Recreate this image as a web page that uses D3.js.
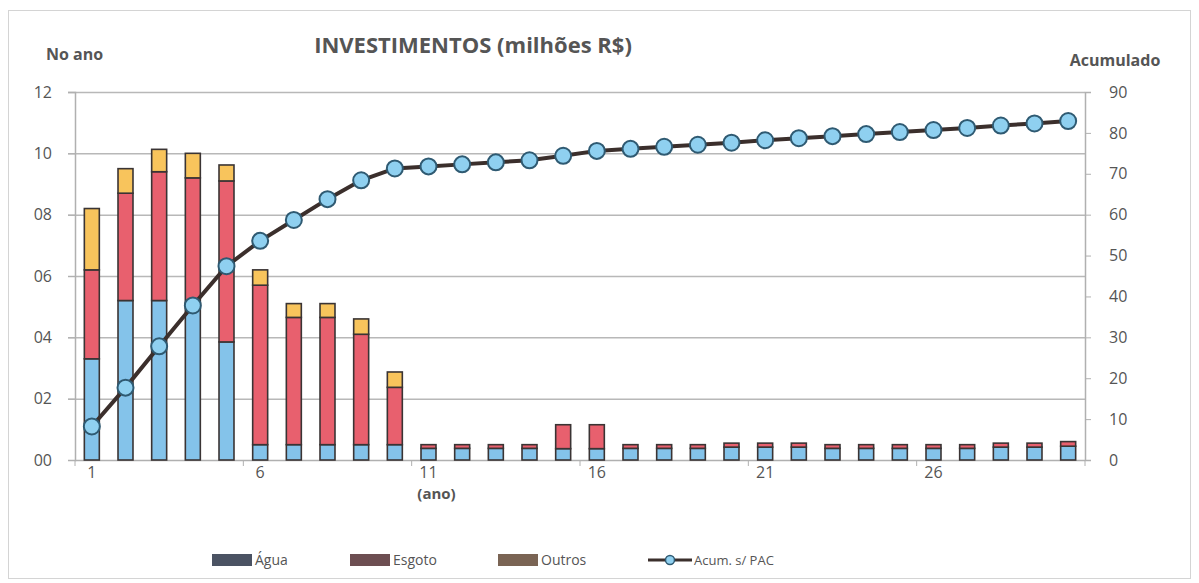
<!DOCTYPE html>
<html>
<head>
<meta charset="utf-8">
<script src="https://cdn.jsdelivr.net/npm/d3@7"></script>
<style>
  html, body { margin: 0; padding: 0; background: #fff; }
  svg text { font-family: "Open Sans", "Liberation Sans", sans-serif; fill: #555; }
</style>
</head>
<body>
<svg id="chart" width="1199" height="583"></svg>
<script>
// Years of the plan
const anos = d3.range(1, 31);

// Annual investment per component (millions R$)
const agua = [3.3, 5.2, 5.2, 5.1, 3.85, 0.5, 0.5, 0.5, 0.5, 0.5,
              0.38, 0.38, 0.38, 0.38, 0.37, 0.37, 0.38, 0.38, 0.38, 0.42,
              0.42, 0.42, 0.38, 0.38, 0.38, 0.38, 0.38, 0.42, 0.42, 0.45];
const esgoto = [2.9, 3.5, 4.2, 4.1, 5.25, 5.2, 4.15, 4.15, 3.6, 1.87,
                0.12, 0.12, 0.12, 0.12, 0.78, 0.78, 0.12, 0.12, 0.12, 0.13,
                0.13, 0.13, 0.12, 0.12, 0.12, 0.12, 0.12, 0.13, 0.13, 0.15];
const outros = [2.0, 0.8, 0.73, 0.8, 0.52, 0.5, 0.45, 0.45, 0.5, 0.5,
                0, 0, 0, 0, 0, 0, 0, 0, 0, 0,
                0, 0, 0, 0, 0, 0, 0, 0, 0, 0];

// Accumulated investment without PAC (millions R$)
const acumulado = [8.2, 17.7, 27.8, 37.8, 47.4, 53.6, 58.7, 63.8, 68.4, 71.3,
                   71.8, 72.3, 72.8, 73.3, 74.4, 75.6, 76.1, 76.6, 77.1, 77.6,
                   78.2, 78.7, 79.2, 79.7, 80.2, 80.7, 81.2, 81.8, 82.3, 82.9];

const leftTicks = [0, 2, 4, 6, 8, 10, 12];
const leftTickLabels = ["00", "02", "04", "06", "08", "10", "12"];
const rightTicks = [0, 10, 20, 30, 40, 50, 60, 70, 80, 90];
const xTickYears = [1, 6, 11, 16, 21, 26];

const series = [
  { key: "agua", nome: "Água", values: agua, color: "#84c3ea", legend: "#4b5363" },
  { key: "esgoto", nome: "Esgoto", values: esgoto, color: "#e8606e", legend: "#6d4e52" },
  { key: "outros", nome: "Outros", values: outros, color: "#f8c45c", legend: "#7a6454" }
];

const svg = d3.select("#chart");
const plot = { left: 75, right: 1085, top: 92, bottom: 460 };

// Outer frame
svg.append("rect")
  .attr("x", 8.5).attr("y", 10.5).attr("width", 1182).attr("height", 568)
  .attr("fill", "none").attr("stroke", "#d4d4d4").attr("stroke-width", 1);

const x = d3.scaleBand().domain(anos).range([plot.left, plot.right]).paddingInner(0.555).paddingOuter(0.2775);
const yL = d3.scaleLinear().domain([0, 12]).range([plot.bottom, plot.top]);
const yR = d3.scaleLinear().domain([0, 90]).range([plot.bottom, plot.top]);

// Horizontal gridlines
svg.append("g").selectAll("line").data(leftTicks.filter(d => d > 0)).join("line")
  .attr("x1", plot.left - 7).attr("x2", plot.right)
  .attr("y1", d => yL(d) + 0.5).attr("y2", d => yL(d) + 0.5)
  .attr("stroke", "#b8b8b8").attr("stroke-width", 1.5);

// Left axis
const gL = svg.append("g").attr("transform", `translate(${plot.left},0)`)
  .call(d3.axisLeft(yL).tickValues(leftTicks).tickFormat((d, i) => leftTickLabels[i]).tickSize(7).tickPadding(16));
gL.select(".domain").attr("stroke", "#b0b0b0").attr("stroke-width", 1.5);
gL.selectAll(".tick line").attr("stroke", "#b0b0b0");
gL.selectAll(".tick text").style("font-size", "16px").attr("fill", "#555");

// Right axis
const gR = svg.append("g").attr("transform", `translate(${plot.right},0)`)
  .call(d3.axisRight(yR).tickValues(rightTicks).tickFormat(d3.format("d")).tickSize(6).tickPadding(18));
gR.select(".domain").attr("stroke", "#b0b0b0").attr("stroke-width", 1.5);
gR.selectAll(".tick line").attr("stroke", "#b0b0b0");
gR.selectAll(".tick text").style("font-size", "16px").attr("fill", "#555");

// Bottom axis: labels every 5 years, marks every 5 category boundaries
svg.append("line")
  .attr("x1", plot.left).attr("x2", plot.right)
  .attr("y1", plot.bottom + 0.5).attr("y2", plot.bottom + 0.5)
  .attr("stroke", "#b0b0b0").attr("stroke-width", 1.5);
const step = x.step();
svg.append("g").selectAll("line").data(d3.range(0, 31, 5)).join("line")
  .attr("x1", d => plot.left + d * step).attr("x2", d => plot.left + d * step)
  .attr("y1", plot.bottom).attr("y2", plot.bottom + 6)
  .attr("stroke", "#b0b0b0");
svg.append("g").selectAll("text").data(xTickYears).join("text")
  .attr("x", d => x(d) + x.bandwidth() / 2)
  .attr("y", plot.bottom + 18)
  .attr("text-anchor", "middle")
  .style("font-size", "16px")
  .text(d => d);
svg.append("text")
  .attr("x", x(11) + x.bandwidth() / 2 + 8).attr("y", plot.bottom + 39)
  .attr("text-anchor", "middle").style("font-size", "15px").style("font-weight", "bold")
  .text("(ano)");

// Stacked bars
const rows = anos.map((a, i) => ({ ano: a, agua: agua[i], esgoto: esgoto[i], outros: outros[i] }));
const stack = d3.stack().keys(series.map(s => s.key))(rows);
const gBars = svg.append("g");
stack.forEach((layer, li) => {
  gBars.append("g").selectAll("rect").data(layer.filter(d => d[1] - d[0] > 0)).join("rect")
    .attr("x", d => x(d.data.ano))
    .attr("y", d => yL(d[1]))
    .attr("width", x.bandwidth())
    .attr("height", d => yL(d[0]) - yL(d[1]))
    .attr("fill", series[li].color)
    .attr("stroke", "#3a3434").attr("stroke-width", 1.6);
});

// Accumulated line on the right scale
const line = d3.line().x((d, i) => x(anos[i]) + x.bandwidth() / 2).y(d => yR(d));
svg.append("path").datum(acumulado)
  .attr("d", line).attr("fill", "none")
  .attr("stroke", "#3b2f2c").attr("stroke-width", 4);
svg.append("g").selectAll("circle").data(acumulado).join("circle")
  .attr("cx", (d, i) => x(anos[i]) + x.bandwidth() / 2)
  .attr("cy", d => yR(d))
  .attr("r", 8)
  .attr("fill", "#8fd0f0").attr("stroke", "#2f5a72").attr("stroke-width", 2);

// Titles
svg.append("text").attr("x", 473).attr("y", 53).attr("text-anchor", "middle")
  .style("font-size", "22px").style("font-weight", "bold").attr("fill", "#4d4d4d")
  .text("INVESTIMENTOS (milhões R$)");
svg.append("text").attr("x", 46).attr("y", 60)
  .style("font-size", "16px").style("font-weight", "bold").attr("fill", "#4d4d4d")
  .text("No ano");
svg.append("text").attr("x", 1115).attr("y", 66).attr("text-anchor", "middle")
  .style("font-size", "16px").style("font-weight", "bold").attr("fill", "#4d4d4d")
  .text("Acumulado");

// Legend
const legY = 560;
const legItems = [
  { x: 212, s: series[0] },
  { x: 350, s: series[1] },
  { x: 498, s: series[2] }
];
const gLeg = svg.append("g");
legItems.forEach(it => {
  gLeg.append("rect").attr("x", it.x).attr("y", legY - 6).attr("width", 40).attr("height", 12)
    .attr("fill", it.s.legend);
  gLeg.append("text").attr("x", it.x + 43).attr("y", legY + 5)
    .style("font-size", "14px").text(it.s.nome);
});
gLeg.append("line").attr("x1", 648).attr("x2", 692).attr("y1", legY).attr("y2", legY)
  .attr("stroke", "#3b2f2c").attr("stroke-width", 3);
gLeg.append("circle").attr("cx", 670).attr("cy", legY).attr("r", 4.5)
  .attr("fill", "#8fd0f0").attr("stroke", "#2f5a72").attr("stroke-width", 1.5);
gLeg.append("text").attr("x", 694).attr("y", legY + 5)
  .style("font-size", "13px").text("Acum. s/ PAC");
</script>
</body>
</html>
